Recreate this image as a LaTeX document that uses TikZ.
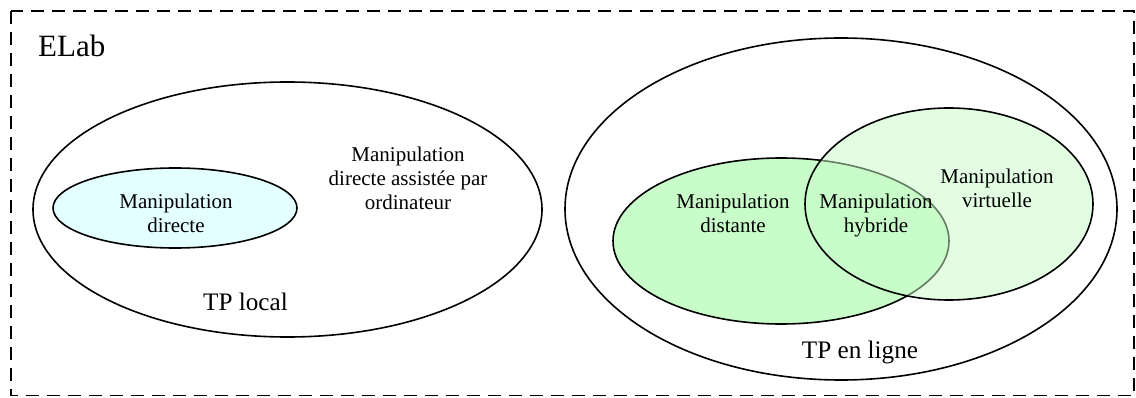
\documentclass[tikz,border=0pt]{standalone}
\usepackage{fontspec}
\setmainfont{Liberation Serif}
\newfontfamily\timesf{Liberation Serif}
\definecolor{cyanfill}{HTML}{E3FFFF}
\definecolor{greenfill}{HTML}{C8FCC8}
\tikzset{
  setline/.style={line width=1.6pt, draw=black},
  frame/.style={line width=1.2pt, dash pattern=on 13pt off 8pt},
  small/.style={font=\timesf\fontsize{21}{24}\selectfont, align=center, anchor=base, inner sep=0pt},
  mid/.style={font=\timesf\fontsize{25.2}{29}\selectfont, anchor=base, inner sep=0pt},
  big/.style={font=\timesf\fontsize{31}{36}\selectfont, anchor=base west, inner sep=0pt}
}
\begin{document}
\begin{tikzpicture}[x=1pt,y=-1pt]
\useasboundingbox (0,0) rectangle (1136,398);
% frame
\draw[frame] (11,11) rectangle (1134,395.5);
\node[big] (elab) at (38,57) {ELab};
% TP local
\draw[setline] (287.5,209.5) ellipse [x radius=254.5, y radius=127.5];
\draw[setline, fill=cyanfill] (175,208) ellipse [x radius=122, y radius=40];
% TP en ligne
\draw[setline] (841,209) ellipse [x radius=276, y radius=171];
\draw[setline, fill=greenfill] (781,241) ellipse [x radius=168, y radius=83];
\draw[setline, fill=greenfill, fill opacity=0.5] (949,204) ellipse [x radius=144, y radius=96];
% texts (anchor=base is the baseline of the last line)
\node[small] (directe) at (176,233) {Manipulation\\directe};
\node[small] (assist) at (408,210) {Manipulation\\directe assistée par\\ordinateur};
\node[mid] (local) at (245.5,310) {TP local};
\node[small] (distante) at (733,233) {Manipulation\\distante};
\node[small] (hybride) at (876,233) {Manipulation\\hybride};
\node[small] (virtuelle) at (997,208) {Manipulation\\virtuelle};
\node[mid] (ligne) at (860,358) {TP en ligne};
\end{tikzpicture}
\end{document}
